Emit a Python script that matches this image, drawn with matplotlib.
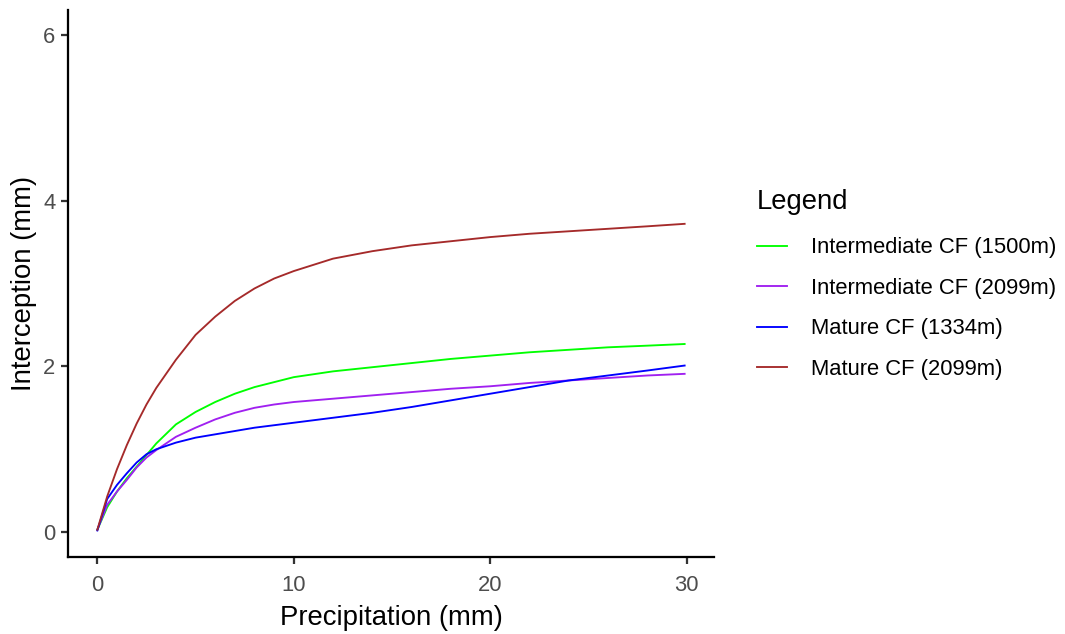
import matplotlib.pyplot as plt

plt.rcParams['font.family'] = ['Liberation Sans', 'DejaVu Sans']

# Rainfall interception curves per forest stand
precip = [0, 0.5, 1, 1.5, 2, 2.5, 3, 4, 5, 6, 7, 8, 9, 10,
          12, 14, 16, 18, 20, 22, 24, 26, 28, 29.9]

inter_cf_1500 = [0.03, 0.30, 0.49, 0.65, 0.79, 0.93, 1.07, 1.30, 1.45, 1.57, 1.67, 1.75, 1.81, 1.87,
                 1.94, 1.99, 2.04, 2.09, 2.13, 2.17, 2.20, 2.23, 2.25, 2.27]
inter_cf_2099 = [0.03, 0.33, 0.49, 0.63, 0.78, 0.90, 0.99, 1.15, 1.26, 1.36, 1.44, 1.50, 1.54, 1.57,
                 1.61, 1.65, 1.69, 1.73, 1.76, 1.80, 1.83, 1.86, 1.89, 1.91]
mature_cf_1334 = [0.02, 0.40, 0.57, 0.71, 0.84, 0.94, 1.00, 1.08, 1.14, 1.18, 1.22, 1.26, 1.29, 1.32,
                  1.38, 1.44, 1.51, 1.59, 1.67, 1.75, 1.83, 1.89, 1.95, 2.01]
mature_cf_2099 = [0.03, 0.43, 0.76, 1.05, 1.31, 1.54, 1.74, 2.08, 2.38, 2.60, 2.79, 2.94, 3.06, 3.15,
                  3.30, 3.39, 3.46, 3.51, 3.56, 3.60, 3.63, 3.66, 3.69, 3.72]

labels = ['Intermediate CF (1500m)', 'Intermediate CF (2099m)',
          'Mature CF (1334m)', 'Mature CF (2099m)']
colors = ['#00FF00', '#A020F0', '#0000FF', '#A52A2A']
series = [inter_cf_1500, inter_cf_2099, mature_cf_1334, mature_cf_2099]

dpi = 180
fig = plt.figure(figsize=(1065 / dpi, 634 / dpi), dpi=dpi)
ax = fig.add_axes([68 / 1065, 1 - 557 / 634, (714 - 68) / 1065, (557 - 10) / 634])

for y, c, lab in zip(series, colors, labels):
    ax.plot(precip, y, color=c, linewidth=0.75, label=lab)

ax.set_xlim(-1.495, 31.395)
ax.set_ylim(-0.3, 6.3)
ax.set_xticks([0, 10, 20, 30])
ax.set_yticks([0, 2, 4, 6])

for side in ['top', 'right']:
    ax.spines[side].set_visible(False)
for side in ['left', 'bottom']:
    ax.spines[side].set_linewidth(0.9)
    ax.spines[side].set_color('black')
ax.tick_params(axis='both', length=2.75, width=0.9, color='#333333',
               labelcolor='#4D4D4D', labelsize=8.8, pad=2.2)
ax.tick_params(axis='x', pad=4.6)

ax.set_xlabel('Precipitation (mm)', fontsize=11, labelpad=3.3)
ax.set_ylabel('Interception (mm)', fontsize=11, labelpad=2.5)

leg = fig.legend(loc='upper left', bbox_to_anchor=(746 / 1065, 1 - 178 / 634),
                 title='Legend', title_fontsize=11, fontsize=8.8, frameon=False,
                 borderpad=0, handlelength=1.36, handletextpad=1.08,
                 labelspacing=0.88, alignment='left')
leg._legend_box.sep = 9

fig.savefig('out.png', dpi=dpi)
